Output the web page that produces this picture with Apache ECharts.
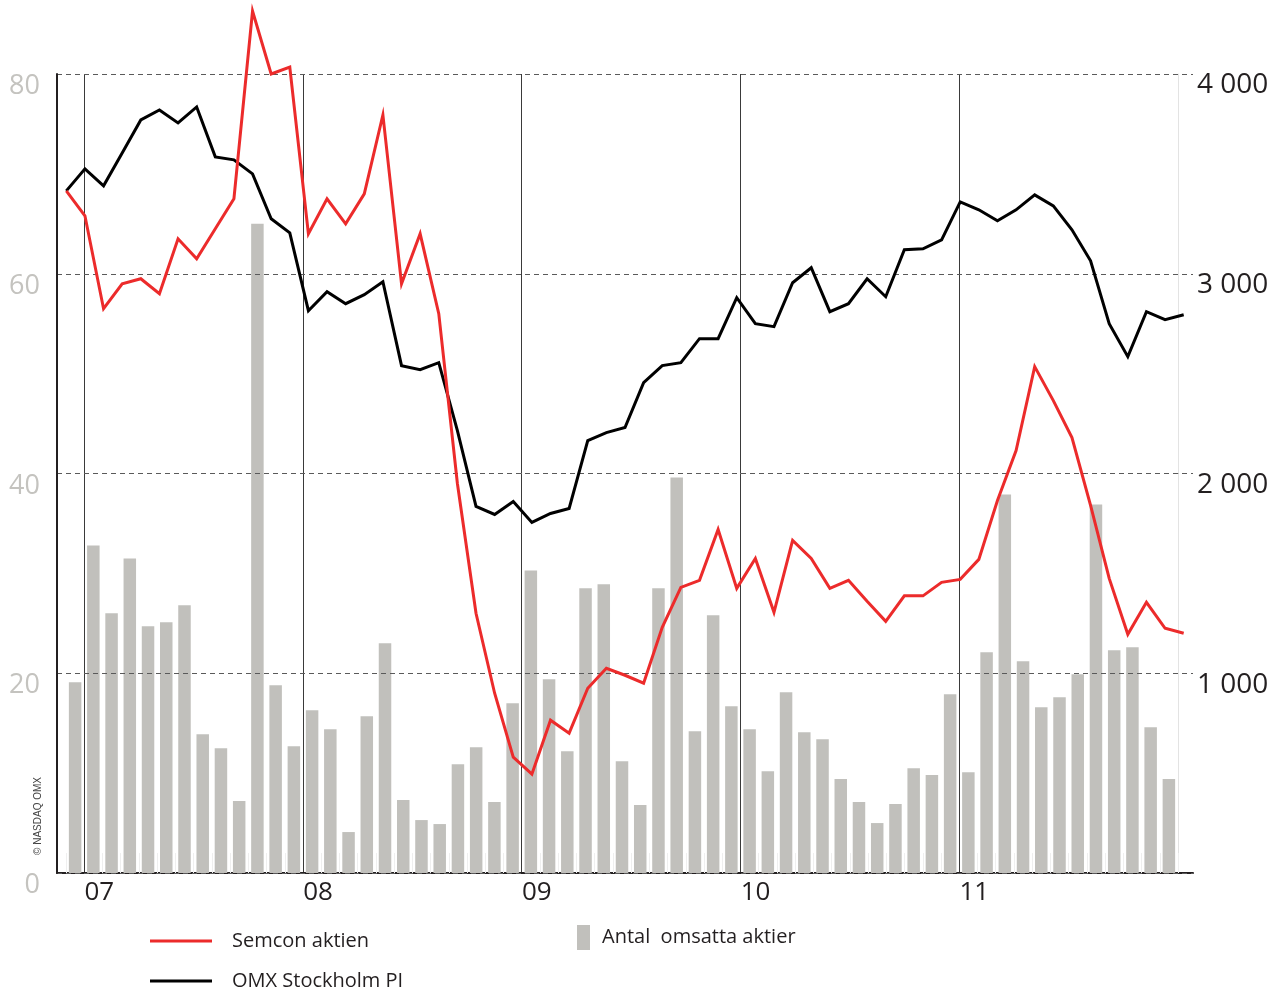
<!DOCTYPE html>
<html>
<head>
<meta charset="utf-8">
<script src="https://cdn.jsdelivr.net/npm/echarts@6/dist/echarts.min.js"></script>
<style>
html,body{margin:0;padding:0;background:#fff;}
#chart{width:1275px;height:991px;}
</style>
</head>
<body>
<div id="chart"></div>
<script>
// Months: Dec 2006 .. Dec 2011
const months = [
 '2006-12',
 '2007-01','2007-02','2007-03','2007-04','2007-05','2007-06','2007-07','2007-08','2007-09','2007-10','2007-11','2007-12',
 '2008-01','2008-02','2008-03','2008-04','2008-05','2008-06','2008-07','2008-08','2008-09','2008-10','2008-11','2008-12',
 '2009-01','2009-02','2009-03','2009-04','2009-05','2009-06','2009-07','2009-08','2009-09','2009-10','2009-11','2009-12',
 '2010-01','2010-02','2010-03','2010-04','2010-05','2010-06','2010-07','2010-08','2010-09','2010-10','2010-11','2010-12',
 '2011-01','2011-02','2011-03','2011-04','2011-05','2011-06','2011-07','2011-08','2011-09','2011-10','2011-11','2011-12'
];
// Semcon share price (SEK, left axis)
const semcon = [68.3,65.8,56.5,59.0,59.5,58.0,63.5,61.5,64.5,67.5,86.3,80.0,80.7,64.0,67.5,65.0,68.0,75.9,59.0,64.0,
 56.0,39.0,26.0,18.0,11.6,9.9,15.3,14.0,18.5,20.5,19.8,19.0,24.6,28.6,29.3,34.4,28.5,31.5,26.1,33.3,
 31.5,28.5,29.3,27.2,25.2,27.75,27.75,29.1,29.4,31.4,37.3,42.3,50.7,47.3,43.6,36.8,29.5,23.9,27.1,24.5,24.0];
// OMX Stockholm PI (right axis)
const omx = [3415,3525,3440,3605,3770,3820,3755,3835,3585,3570,3500,3275,3205,2815,2910,2850,2895,2960,2540,2520,
 2555,2215,1835,1795,1860,1755,1800,1825,2165,2205,2230,2455,2540,2555,2675,2675,2880,2750,2735,2955,
 3030,2810,2850,2975,2885,3120,3125,3170,3360,3320,3265,3320,3395,3340,3220,3065,2750,2585,2810,2770,2795];
// Traded shares (relative scale, drawn on hidden axis 0-80)
const volume = [19.1,32.8,26.0,31.5,24.7,25.1,26.8,13.9,12.5,7.2,65.0,18.8,12.7,16.3,14.4,4.1,15.7,23.0,7.3,5.3,
 4.9,10.9,12.6,7.1,17.0,30.3,19.4,12.2,28.5,28.9,11.2,6.8,28.5,39.6,14.2,25.8,16.7,14.4,10.2,18.1,
 14.1,13.4,9.4,7.1,5.0,6.9,10.5,9.8,17.9,10.1,22.1,37.9,21.2,16.6,17.6,19.9,36.9,22.3,22.6,14.6,9.4];
const leftTicks = [0,20,40,60,80];
const rightTicks = [1000,2000,3000,4000];
const seriesNames = ['Semcon aktien','OMX Stockholm PI','Antal  omsatta aktier'];

const FONT = 'Open Sans';
const chart = echarts.init(document.getElementById('chart'), null, {renderer:'canvas'});
const isYearStart = (i) => i % 12 === 1;
const legendText = (pad) => ({fontSize: 20, color: '#231f20', fontFamily: FONT, padding: [0,0,0,pad]});

chart.setOption({
  animation: false,
  backgroundColor: '#ffffff',
  textStyle: {fontFamily: FONT},
  grid: [
    {left: 57, right: 82, top: 74, bottom: 118},
    {left: 66, right: 97, top: 74, bottom: 118}
  ],
  legend: [
    {left: 150, top: 931, selectedMode: false, icon: 'rect', padding: 0,
     itemWidth: 62, itemHeight: 3, data: [seriesNames[0]], textStyle: legendText(15)},
    {left: 150, top: 971, selectedMode: false, icon: 'rect', padding: 0,
     itemWidth: 62, itemHeight: 3, data: [seriesNames[1]], textStyle: legendText(15)},
    {left: 577, top: 925, selectedMode: false, icon: 'rect', padding: 0,
     itemWidth: 13, itemHeight: 25, data: [seriesNames[2]], textStyle: legendText(7)}
  ],
  xAxis: [
    {type: 'category', gridIndex: 0, data: months, boundaryGap: true,
     axisLine: {show: true, onZero: false, lineStyle: {color: '#231f20', width: 2}},
     axisTick: {show: false}, axisLabel: {show: false}, splitLine: {show: false}},
    {type: 'category', gridIndex: 1, data: months, boundaryGap: true,
     axisLine: {show: false},
     axisTick: {show: true, inside: true, length: 20, interval: (i) => !isYearStart(i), lineStyle: {color: '#efefef', width: 1}},
     axisLabel: {show: true, interval: (i) => isYearStart(i), formatter: (v) => v.slice(2,4),
                 fontSize: 26, color: '#231f20', fontFamily: FONT, margin: 7, padding: [0,0,0,12]},
     splitLine: {show: true, interval: (i) => isYearStart(i), lineStyle: {color: '#3a3a3a', width: 1}}}
  ],
  yAxis: [
    {type: 'value', gridIndex: 0, position: 'left', min: 0, max: 80, interval: 20, z: 3,
     axisLine: {show: true, lineStyle: {color: '#231f20', width: 2}},
     axisTick: {show: false},
     axisLabel: {color: '#c4c3bf', fontSize: 27, fontFamily: FONT, margin: 17,
                 verticalAlign: 'top', lineHeight: 25,
                 formatter: (v) => leftTicks.includes(v) ? String(v) : ''},
     splitLine: {show: true, lineStyle: {type: [5,4], color: '#5a5a5a', width: 1}}},
    {type: 'value', gridIndex: 0, position: 'right', min: 0, max: 4000, interval: 1000,
     axisLine: {show: false}, axisTick: {show: false},
     axisLabel: {color: '#231f20', fontSize: 28, fontFamily: FONT, margin: 4,
                 verticalAlign: 'top', lineHeight: 23,
                 formatter: (v) => rightTicks.includes(v) ? String(v).replace(/\B(?=(\d{3})+(?!\d))/g, ' ') : ''},
     splitLine: {show: false}},
    {type: 'value', gridIndex: 1, position: 'right', min: 0, max: 80,
     axisLine: {show: true, lineStyle: {color: '#e3e3e3', width: 1}},
     axisTick: {show: false}, axisLabel: {show: false}, splitLine: {show: false}}
  ],
  series: [
    {name: seriesNames[2], type: 'bar', xAxisIndex: 1, yAxisIndex: 2, data: volume,
     barWidth: 12.5, z: 2, itemStyle: {color: '#c1c0bc'}, color: '#c1c0bc'},
    {name: seriesNames[1], type: 'line', xAxisIndex: 0, yAxisIndex: 1, data: omx,
     symbol: 'none', clip: false, z: 5, color: '#000000',
     lineStyle: {color: '#000000', width: 3, join: 'miter'}},
    {name: seriesNames[0], type: 'line', xAxisIndex: 0, yAxisIndex: 0, data: semcon,
     symbol: 'none', clip: false, z: 6, color: '#ec2b2b',
     lineStyle: {color: '#ec2b2b', width: 3, join: 'miter'}}
  ],
  graphic: [
    {type: 'text', left: 33, top: 777, rotation: Math.PI / 2,
     style: {text: '© NASDAQ OMX', fontSize: 10, fill: '#444', fontFamily: 'Liberation Sans'}}
  ]
});
</script>
</body>
</html>
